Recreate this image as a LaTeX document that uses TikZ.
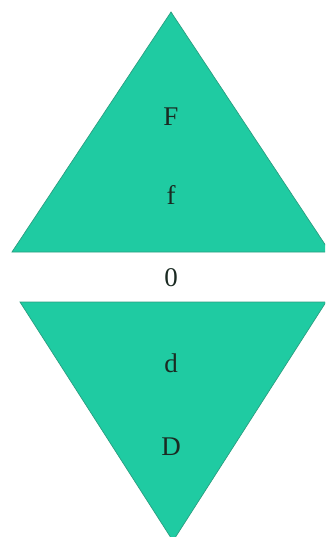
\documentclass[tikz,border=0pt]{standalone}
\usepackage{fontspec}
\setmainfont{Liberation Serif}
\usepackage{tikz}
\definecolor{tealfill}{HTML}{1FCBA2}
\definecolor{tealedge}{HTML}{2A9E80}
\definecolor{labelink}{HTML}{1A2A22}

\begin{document}
\begin{tikzpicture}[x=1pt,y=-1pt,
  tri/.style={fill=tealfill,draw=tealedge,line width=0.7pt,line join=miter},
  lbl/.style={font=\fontsize{27}{31}\selectfont,text=labelink,inner sep=0pt},
]
  \useasboundingbox (0,0) rectangle (325,537);
  \clip (0,0) rectangle (325,537);

  % Upper triangle
  \coordinate (uptop) at (171,12);
  \coordinate (upleft) at (12,252);
  \coordinate (upright) at (330,252);
  \filldraw[tri] (uptop) -- (upleft) -- (upright) -- cycle;

  % Lower triangle
  \coordinate (lowleft) at (20,302);
  \coordinate (lowright) at (326,302);
  \coordinate (lowtip) at (173,541);
  \filldraw[tri] (lowleft) -- (lowright) -- (lowtip) -- cycle;

  % Labels
  \node[lbl] (bigf) at (171,117) {F};
  \node[lbl] (smallf) at (171,195) {f};
  \node[lbl] (zero) at (171,278) {0};
  \node[lbl] (smalld) at (171,363) {d};
  \node[lbl] (bigd) at (171,447) {D};
\end{tikzpicture}
\end{document}
